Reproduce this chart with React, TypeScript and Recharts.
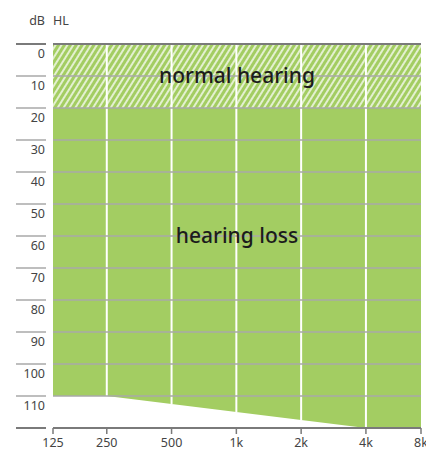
import React from 'react';
import {
  ComposedChart,
  Area,
  XAxis,
  YAxis,
  ReferenceLine,
  ReferenceArea,
} from 'recharts';

// frequency ticks (position in octave-ish units along the axis)
const freqLabels = ['125', '250', '500', '1k', '2k', '4k', '8k'];
const freqPos = [0, 0.83, 1.83, 2.83, 3.83, 4.83, 5.68];
// lower edge of the green region (dB HL) at each frequency
const lossLimit = [110, 110, 112.5, 115, 117.5, 120, 120];
// dB HL ticks
const dbTicks = [0, 10, 20, 30, 40, 50, 60, 70, 80, 90, 100, 110, 120];

const GREEN = '#a3cd62';
const FONT = '"Noto Sans", "Open Sans", sans-serif';

const data = freqPos.map((x, i) => ({ x, range: [0, lossLimit[i]] }));

const YTick = (props: any) => {
  const { y, payload } = props;
  const edge = payload.value === 0 || payload.value === 120;
  return (
    <g>
      <line x1={16} x2={46} y1={y} y2={y} stroke={edge ? '#7a7a7a' : '#a8a8a8'} strokeWidth={edge ? 2 : 1.5} />
      {payload.value !== 120 && (
        <text x={45} y={y + 14} textAnchor="end" fill="#444" fontSize={12.5} fontFamily={FONT}>
          {payload.value}
        </text>
      )}
    </g>
  );
};

export default function App() {
  return (
    <div style={{ position: 'absolute', left: 0, top: 0, width: 426, height: 451, background: '#fff' }}>
      <span style={{ position: 'absolute', right: 426 - 45, top: 12, fontFamily: FONT, fontSize: 12.5, color: '#444' }}>dB</span>
      <span style={{ position: 'absolute', left: 53, top: 12, fontFamily: FONT, fontSize: 12.5, color: '#444' }}>HL</span>
      <ComposedChart width={426} height={451} data={data} margin={{ top: 44, right: 5, bottom: 0, left: 0 }}>
        <defs>
          <pattern id="hatch" patternUnits="userSpaceOnUse" width={5} height={10} patternTransform="rotate(32)">
            <line x1={1} y1={0} x2={1} y2={10} stroke="#fff" strokeWidth={1.4} />
          </pattern>
        </defs>
        <XAxis
          dataKey="x"
          type="number"
          domain={[0, 5.68]}
          ticks={freqPos}
          tickFormatter={(v: number) => freqLabels[freqPos.indexOf(v)]}
          axisLine={{ stroke: '#7a7a7a', strokeWidth: 2 }}
          tickLine={{ stroke: '#7a7a7a', strokeWidth: 1.5 }}
          tickSize={6}
          tickMargin={4}
          tick={{ fill: '#444', fontSize: 12.5, fontFamily: FONT }}
          height={23}
          interval={0}
          allowDataOverflow
        />
        <YAxis
          type="number"
          domain={[0, 120]}
          reversed
          ticks={dbTicks}
          width={53}
          axisLine={false}
          tickLine={false}
          tick={<YTick />}
          interval={0}
        />
        <Area
          dataKey="range"
          type="linear"
          fill={GREEN}
          fillOpacity={1}
          stroke="none"
          isAnimationActive={false}
        />
        <ReferenceArea x1={0} x2={5.68} y1={0} y2={20} fill="url(#hatch)" fillOpacity={1} stroke="none" />
        {freqPos.slice(1, -1).map((x, i) => (
          <ReferenceLine
            key={`v${x}`}
            segment={[{ x, y: 0 }, { x, y: lossLimit[i + 1] }]}
            stroke="#fff"
            strokeWidth={2}
          />
        ))}
        {dbTicks.slice(1, -1).map((v) => (
          <ReferenceLine key={`h${v}`} y={v} stroke="#a8a8a8" strokeWidth={1.5} />
        ))}
        <ReferenceLine y={0} stroke="#7a7a7a" strokeWidth={2} />
        <ReferenceArea
          x1={0}
          x2={5.68}
          y1={0}
          y2={20}
          fill="none"
          stroke="none"
          label={{ value: 'normal hearing', position: 'center', fill: '#1c1c1c', fontSize: 21, fontWeight: 500, fontFamily: FONT }}
        />
        <ReferenceArea
          x1={0}
          x2={5.68}
          y1={40}
          y2={80}
          fill="none"
          stroke="none"
          label={{ value: 'hearing loss', position: 'center', fill: '#1c1c1c', fontSize: 21, fontWeight: 500, fontFamily: FONT }}
        />
      </ComposedChart>
    </div>
  );
}
